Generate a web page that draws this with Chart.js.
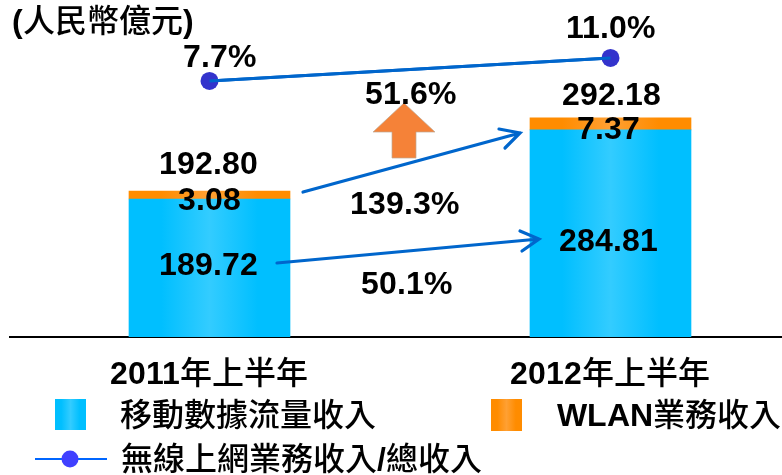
<!DOCTYPE html>
<html lang="zh-Hant">
<head>
<meta charset="utf-8">
<style>
@font-face{font-family:"Mix";src:local("Liberation Sans Bold");unicode-range:U+0000-02FF;}
@font-face{font-family:"Mix";src:local("Noto Sans CJK TC Medium"),local("Noto Sans CJK TC");unicode-range:U+2E80-9FFF,U+F900-FAFF;}
html,body{margin:0;padding:0;background:#fff;overflow:hidden}
canvas{display:block}
</style>
<script src="https://cdn.jsdelivr.net/npm/chart.js@4"></script>
</head>
<body>
<canvas id="c" width="782" height="475"></canvas>
<script>
const categories = ["2011年上半年", "2012年上半年"];
const mobileData = [189.72, 284.81];
const mobileLabels = ["189.72", "284.81"];
// The source exaggerates the thin WLAN caps; these are the heights.
const wlanDrawn = [11, 16.5];
const wlanLabels = ["3.08", "7.37"];
const totalLabels = ["192.80", "292.18"];
const wirelessShare = [7.7, 11.0];
const shareLabels = ["7.7%", "11.0%"];
const seriesNames = ["移動數據流量收入", "WLAN業務收入", "無線上網業務收入/總收入"];
const unitTitle = "(人民幣億元)";
const growthNotes = ["51.6%", "139.3%", "50.1%"];

const FONT = '"Mix","Liberation Sans","Noto Sans CJK TC",sans-serif';
const F32 = '32px ' + FONT;
const BAR_W = 161;

function hGrad(ctx, x0, x1, edge, mid) {
  const g = ctx.createLinearGradient(x0, 0, x1, 0);
  g.addColorStop(0, edge); g.addColorStop(0.2, edge); g.addColorStop(0.5, mid);
  g.addColorStop(0.8, edge); g.addColorStop(1, edge);
  return g;
}
function barFill(edge, mid) {
  return c => {
    const x = c.chart.scales.x;
    if (!x || c.dataIndex == null) return edge;
    const p = x.getPixelForValue(c.dataIndex);
    if (!Number.isFinite(p)) return edge;
    return hGrad(c.chart.ctx, p - BAR_W / 2, p + BAR_W / 2, edge, mid);
  };
}
function arrowLine(ctx, x0, y0, x1, y1, a0x, a0y, a1x, a1y) {
  ctx.save();
  ctx.strokeStyle = '#0066CC'; ctx.lineWidth = 3.2; ctx.lineCap = 'round'; ctx.lineJoin = 'miter';
  ctx.beginPath(); ctx.moveTo(x0, y0); ctx.lineTo(x1, y1);
  ctx.moveTo(a0x, a0y); ctx.lineTo(x1, y1); ctx.lineTo(a1x, a1y);
  ctx.stroke(); ctx.restore();
}
function txt(ctx, s, x, y, align) {
  ctx.textAlign = align || 'center';
  ctx.textBaseline = 'middle';
  ctx.fillText(s, x, y + 1);
}

const overlay = {
  id: 'overlay',
  afterDatasetsDraw(chart) {
    const ctx = chart.ctx, xs = chart.scales.x, ds = chart.data.datasets;
    const m0 = chart.getDatasetMeta(0).data, m1 = chart.getDatasetMeta(1).data, m2 = chart.getDatasetMeta(2).data;
    ctx.save();

    // the source's connector runs over its round markers
    ctx.strokeStyle = ds[2].borderColor; ctx.lineWidth = ds[2].borderWidth;
    ctx.beginPath(); ctx.moveTo(m2[0].x, m2[0].y); ctx.lineTo(m2[1].x, m2[1].y); ctx.stroke();

    // growth arrows
    arrowLine(ctx, 303, 192, 520, 133, 499, 129, 505, 148);
    arrowLine(ctx, 277, 263, 539, 239, 520, 231, 522, 251);
    ctx.beginPath();
    ctx.moveTo(404, 103); ctx.lineTo(435, 132); ctx.lineTo(416, 132); ctx.lineTo(416, 158);
    ctx.lineTo(392, 158); ctx.lineTo(392, 132); ctx.lineTo(373, 132); ctx.closePath();
    ctx.fillStyle = '#F58238'; ctx.fill();
    ctx.strokeStyle = 'rgba(190,170,150,0.7)'; ctx.lineWidth = 1; ctx.stroke();

    ctx.fillStyle = '#000';
    ctx.font = F32;
    // value labels, anchored on the marks
    categories.forEach((_, i) => {
      const cx = xs.getPixelForValue(i);
      txt(ctx, mobileLabels[i], cx + (i ? -2 : -1), m0[i].y + (i ? 111 : 66));
      txt(ctx, wlanLabels[i], cx + (i ? -2 : 0), m1[i].y + (i ? 11 : 9));
      txt(ctx, totalLabels[i], cx + (i ? 1 : -1), m1[i].y + (i ? -23 : -27));
      txt(ctx, shareLabels[i], cx + (i ? 0 : 10), m2[i].y - (i ? 30 : 24));
    });
    txt(ctx, growthNotes[0], 410, 94);
    txt(ctx, growthNotes[1], 404, 204);
    txt(ctx, growthNotes[2], 406, 284);
    txt(ctx, unitTitle, 12, 22, 'left');

    // legend
    ctx.fillStyle = hGrad(ctx, 55, 86, '#00BFFF', '#33CCFF');
    ctx.fillRect(55, 399, 31, 31);
    ctx.fillStyle = hGrad(ctx, 491, 522, '#FF8C00', '#FFA033');
    ctx.fillRect(491, 399, 31, 32);
    ctx.strokeStyle = '#0066FF'; ctx.lineWidth = 2;
    ctx.beginPath(); ctx.moveTo(35, 459); ctx.lineTo(107, 459); ctx.stroke();
    ctx.fillStyle = '#4040FF';
    ctx.beginPath(); ctx.arc(70, 459, 8.5, 0, Math.PI * 2); ctx.fill();
    ctx.fillStyle = '#000';
    txt(ctx, ds[0].label, 120, 416, 'left');
    txt(ctx, ds[1].label, 557, 416, 'left');
    txt(ctx, ds[2].label, 121, 460, 'left');
    ctx.restore();
  }
};

const chart = new Chart(document.getElementById('c'), {
  data: {
    datasets: [
      { type: 'bar', label: seriesNames[0], yAxisID: 'y', order: 2, barThickness: BAR_W,
        data: mobileData.map((v, i) => ({ x: i, y: v })),
        backgroundColor: barFill('#00BFFF', '#33CCFF') },
      { type: 'bar', label: seriesNames[1], yAxisID: 'y', order: 3, barThickness: BAR_W,
        data: wlanDrawn.map((v, i) => ({ x: i, y: v })),
        backgroundColor: barFill('#FF8C00', '#FFA033') },
      { type: 'line', label: seriesNames[2], yAxisID: 'y1', order: 1, clip: false,
        data: wirelessShare.map((v, i) => ({ x: i, y: v })),
        borderColor: '#0066CC', borderWidth: 3, tension: 0,
        pointRadius: 9, pointBackgroundColor: '#3333CC', pointBorderColor: '#3333CC', pointBorderWidth: 0 }
    ]
  },
  options: {
    responsive: false,
    animation: false,
    layout: { autoPadding: false, padding: { left: 10, right: 0, top: 0, bottom: 0 } },
    plugins: { legend: { display: false }, title: { display: false }, tooltip: { enabled: false } },
    events: [],
    scales: {
      x: {
        type: 'linear', stacked: true, offset: false, bounds: 'data',
        min: -0.4975, max: 1.4277,
        grid: { display: false, drawTicks: false, offset: false },
        border: { display: true, color: '#000', width: 2 },
        afterBuildTicks: s => { s.ticks = [{ value: 0 }, { value: 1 }]; },
        afterFit: s => { s.height = 475 - 337; s.paddingRight = 0; s.paddingLeft = 0; },
        ticks: { callback: v => categories[v], color: '#000', font: { family: FONT, size: 32 },
                 padding: 19, autoSkip: false, maxRotation: 0, minRotation: 0 }
      },
      y: { stacked: true, display: false, min: 0, max: 463.4 },
      y1: { display: false, min: -29, max: 19.3 }
    }
  },
  plugins: [overlay]
});
chart.update('none');
Promise.all([document.fonts.load(F32, '2011年'), document.fonts.load(F32, 'WLAN')])
  .then(() => chart.update('none'));
</script>
</body>
</html>
